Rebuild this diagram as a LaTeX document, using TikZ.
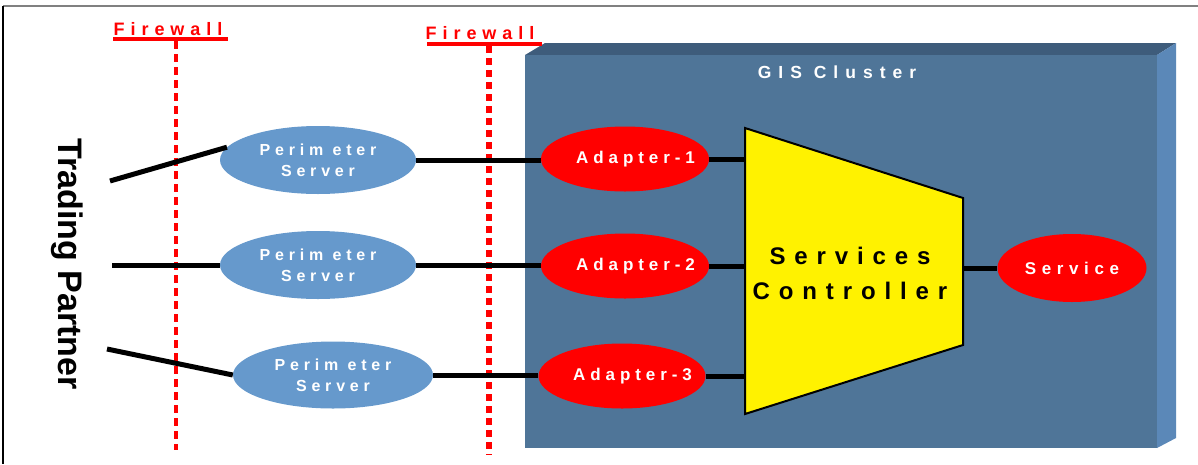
\documentclass[tikz,border=0pt]{standalone}
\usepackage{fontspec}
\setmainfont{Liberation Sans}
\newfontfamily\spc[LetterSpace=30]{Liberation Sans}
\newfontfamily\spca[LetterSpace=29]{Liberation Sans}
\newfontfamily\spcs[LetterSpace=37]{Liberation Sans}
\newfontfamily\spcv[LetterSpace=33]{Liberation Sans}
\newfontfamily\spcg[LetterSpace=40]{Liberation Sans}
\newfontfamily\spcw[LetterSpace=33]{Liberation Sans}
\usetikzlibrary{shapes.geometric}
\definecolor{boxfront}{RGB}{79,117,152}
\definecolor{boxtop}{RGB}{62,92,123}
\definecolor{boxside}{RGB}{91,136,184}
\definecolor{perim}{RGB}{102,153,204}
\definecolor{fwred}{RGB}{255,0,0}
\begin{document}
\begin{tikzpicture}[x=1pt,y=-1pt,
  perimnode/.style={ellipse,fill=perim,inner sep=0pt,minimum width=196pt,minimum height=68pt,
     text=white,align=center,font=\spc\bfseries\fontsize{16}{21}\selectfont},
  adapternode/.style={ellipse,fill=fwred,inner sep=0pt,minimum width=168pt,minimum height=65pt},
  redtext/.style={text=white,font=\spca\bfseries\fontsize{17}{18}\selectfont},
  link/.style={line width=5pt},
  fwtext/.style={text=fwred,font=\spcw\bfseries\fontsize{18}{18}\selectfont,inner sep=0pt}]
\useasboundingbox (0,0) rectangle (1198,464);
% frame
\draw[gray,line width=1.5pt] (3,6) -- (1198,6);
\draw[black,line width=1.5pt] (3,6) -- (3,464);
% cluster box
\fill[boxtop] (525,55) -- (545,43) -- (1176,43) -- (1157,55) -- cycle;
\fill[boxside] (1157,55) -- (1176,43) -- (1176,438) -- (1157,448) -- cycle;
\fill[boxfront] (525,55) rectangle (1157,448);
\node[text=white,font=\spcg\bfseries\fontsize{17.5}{18}\selectfont] (gis) at (837,72) {GIS Cluster};
% firewalls
\node[fwtext] (fw1) at (168,29) {Firewall};
\draw[fwred,line width=4.5pt] (113,39) -- (228,39);
\coordinate (fw1top) at (176,41);
\coordinate (fw1bot) at (176,450);
\draw[fwred,line width=4pt,dash pattern=on 8pt off 5pt] (fw1top) -- (fw1bot);
\node[fwtext] (fw2) at (480,33) {Firewall};
\draw[fwred,line width=4.5pt] (427,44) -- (542,44);
\coordinate (fw2top) at (489,46);
\coordinate (fw2bot) at (489,455);
\draw[fwred,line width=6.5pt,dash pattern=on 7pt off 5pt] (fw2top) -- (fw2bot);
% trading partner
\node[rotate=-90,font=\bfseries\fontsize{34}{40}\selectfont] (tp) at (67,264) {Trading Partner};
\coordinate (tp1) at (110,181);
\coordinate (tp2) at (112,265);
\coordinate (tp3) at (107,349);
% perimeter servers
\node[perimnode] (p1) at (318,160) {Perim eter\\Server};
\node[perimnode] (p2) at (318,265) {Perim eter\\Server};
\node[perimnode,minimum width=200pt,minimum height=67pt] (p3) at (333,375) {Perim eter\\Server};
\draw[link] (tp1) -- (p1.172);
\draw[link] (tp2) -- (p2.west);
\draw[link] (tp3) -- (p3.west);
% adapters
\node[adapternode,label={[redtext,xshift=10.5pt]center:Adapter-1}] (a1) at (625,159) {};
\node[adapternode,label={[redtext,xshift=10.5pt]center:Adapter-2}] (a2) at (625,266) {};
\node[adapternode,minimum width=167pt,label={[redtext,xshift=10.5pt]center:Adapter-3}] (a3) at (622,376) {};
\draw[link] (p1.east) -- (p1.east -| a1.west);
\draw[link] (p2.east) -- (p2.east -| a2.west);
\draw[link] (p3.east) -- (p3.east -| a3.west);
% services controller
\coordinate (scL) at (745,270);
\coordinate (scR) at (963,270);
\filldraw[fill=yellow,draw=black,line width=2pt] (745,128) -- (963,198) -- (963,345) -- (745,414) -- cycle;
\node[align=center,font=\spcs\bfseries\fontsize{24}{35}\selectfont] (sc) at (850,273) {Services\\Controller};
\draw[link] (a1.east) -- (a1.east -| scL);
\draw[link] (a2.east) -- (a2.east -| scL);
\draw[link] (a3.east) -- (a3.east -| scL);
% service
\node[adapternode,minimum width=149pt,minimum height=68pt,text=white,font=\spcv\bfseries\fontsize{17}{18}\selectfont] (svc) at (1072,268) {Service};
\draw[link] (scR |- svc.west) -- (svc.west);
\end{tikzpicture}
\end{document}
